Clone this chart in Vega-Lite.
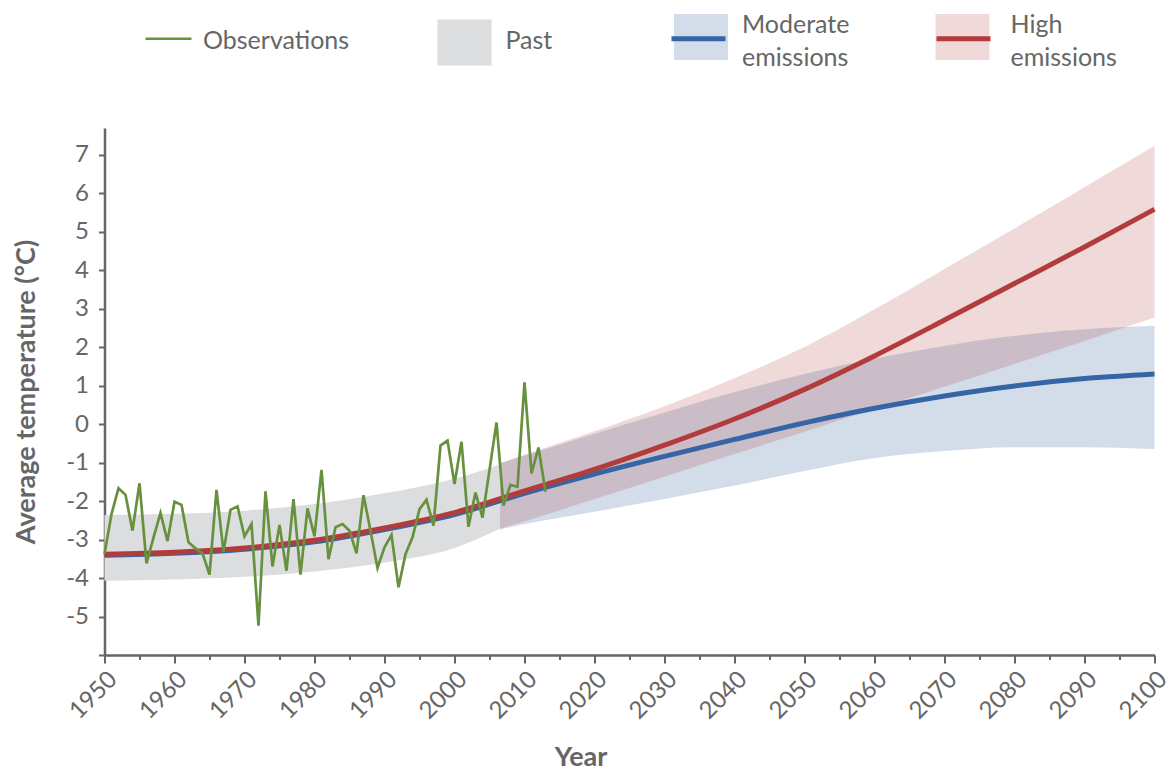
{
  "$schema": "https://vega.github.io/schema/vega-lite/v6.json",
  "width": 1050,
  "height": 527,
  "autosize": {"type": "none"},
  "padding": {"left": 104.5, "top": 128, "right": 17.5, "bottom": 115},
  "background": "white",
  "config": {
    "locale": {"number": {"decimal": ".", "thousands": ",", "grouping": [3], "currency": ["$", ""], "minus": "-"}},
    "view": {"stroke": null},
    "font": "Lato",
    "axis": {
      "domainColor": "#666666", "domainWidth": 2.5, "tickColor": "#666666", "tickWidth": 2,
      "labelColor": "#666666", "labelFont": "Lato", "labelFontSize": 24,
      "titleColor": "#666666", "titleFont": "Lato", "titleFontSize": 27, "titleFontWeight": "bold", "grid": false
    },
    "legend": {"labelFont": "Lato", "labelFontSize": 25, "labelColor": "#666666", "padding": 0}
  },
  "datasets": {
    "obs": [
      {"year": 1950, "temp": -3.38}, {"year": 1951, "temp": -2.34}, {"year": 1952, "temp": -1.67}, {"year": 1953, "temp": -1.84},
      {"year": 1954, "temp": -2.77}, {"year": 1955, "temp": -1.54}, {"year": 1956, "temp": -3.62}, {"year": 1957, "temp": -2.95},
      {"year": 1958, "temp": -2.31}, {"year": 1959, "temp": -3.04}, {"year": 1960, "temp": -2.02}, {"year": 1961, "temp": -2.10},
      {"year": 1962, "temp": -3.07}, {"year": 1963, "temp": -3.23}, {"year": 1964, "temp": -3.36}, {"year": 1965, "temp": -3.91},
      {"year": 1966, "temp": -1.71}, {"year": 1967, "temp": -3.32}, {"year": 1968, "temp": -2.23}, {"year": 1969, "temp": -2.14},
      {"year": 1970, "temp": -2.92}, {"year": 1971, "temp": -2.60}, {"year": 1972, "temp": -5.24}, {"year": 1973, "temp": -1.75},
      {"year": 1974, "temp": -3.70}, {"year": 1975, "temp": -2.62}, {"year": 1976, "temp": -3.81}, {"year": 1977, "temp": -1.95},
      {"year": 1978, "temp": -3.91}, {"year": 1979, "temp": -2.19}, {"year": 1980, "temp": -2.92}, {"year": 1981, "temp": -1.19},
      {"year": 1982, "temp": -3.51}, {"year": 1983, "temp": -2.68}, {"year": 1984, "temp": -2.60}, {"year": 1985, "temp": -2.77},
      {"year": 1986, "temp": -3.36}, {"year": 1987, "temp": -1.85}, {"year": 1988, "temp": -2.77}, {"year": 1989, "temp": -3.74},
      {"year": 1990, "temp": -3.20}, {"year": 1991, "temp": -2.88}, {"year": 1992, "temp": -4.24}, {"year": 1993, "temp": -3.38},
      {"year": 1994, "temp": -2.94}, {"year": 1995, "temp": -2.21}, {"year": 1996, "temp": -1.97}, {"year": 1997, "temp": -2.64},
      {"year": 1998, "temp": -0.56}, {"year": 1999, "temp": -0.43}, {"year": 2000, "temp": -1.56}, {"year": 2001, "temp": -0.46},
      {"year": 2002, "temp": -2.67}, {"year": 2003, "temp": -1.78}, {"year": 2004, "temp": -2.43}, {"year": 2005, "temp": -1.19},
      {"year": 2006, "temp": 0.04}, {"year": 2007, "temp": -2.12}, {"year": 2008, "temp": -1.58}, {"year": 2009, "temp": -1.63},
      {"year": 2010, "temp": 1.08}, {"year": 2011, "temp": -1.28}, {"year": 2012, "temp": -0.61}, {"year": 2013, "temp": -1.76}
    ],
    "lines": [
      {"year": 1950, "model": "High emissions", "temp": -3.38}, {"year": 1960, "model": "High emissions", "temp": -3.33},
      {"year": 1970, "model": "High emissions", "temp": -3.22}, {"year": 1980, "model": "High emissions", "temp": -3.02},
      {"year": 1990, "model": "High emissions", "temp": -2.70}, {"year": 2000, "model": "High emissions", "temp": -2.30},
      {"year": 2010, "model": "High emissions", "temp": -1.74}, {"year": 2020, "model": "High emissions", "temp": -1.18},
      {"year": 2030, "model": "High emissions", "temp": -0.55}, {"year": 2040, "model": "High emissions", "temp": 0.13},
      {"year": 2050, "model": "High emissions", "temp": 0.90}, {"year": 2060, "model": "High emissions", "temp": 1.77},
      {"year": 2070, "model": "High emissions", "temp": 2.70}, {"year": 2080, "model": "High emissions", "temp": 3.65},
      {"year": 2090, "model": "High emissions", "temp": 4.60}, {"year": 2100, "model": "High emissions", "temp": 5.58},
      {"year": 1950, "model": "Moderate emissions", "temp": -3.41}, {"year": 1960, "model": "Moderate emissions", "temp": -3.36},
      {"year": 1970, "model": "Moderate emissions", "temp": -3.25}, {"year": 1980, "model": "Moderate emissions", "temp": -3.06},
      {"year": 1990, "model": "Moderate emissions", "temp": -2.74}, {"year": 2000, "model": "Moderate emissions", "temp": -2.35},
      {"year": 2010, "model": "Moderate emissions", "temp": -1.80}, {"year": 2020, "model": "Moderate emissions", "temp": -1.30},
      {"year": 2030, "model": "Moderate emissions", "temp": -0.84}, {"year": 2040, "model": "Moderate emissions", "temp": -0.40},
      {"year": 2050, "model": "Moderate emissions", "temp": 0.03}, {"year": 2060, "model": "Moderate emissions", "temp": 0.41},
      {"year": 2070, "model": "Moderate emissions", "temp": 0.73}, {"year": 2080, "model": "Moderate emissions", "temp": 0.99},
      {"year": 2090, "model": "Moderate emissions", "temp": 1.18}, {"year": 2100, "model": "Moderate emissions", "temp": 1.30}
    ],
    "bands": [
      {"year": 1950, "series": "Past", "lower": -4.07, "upper": -2.36},
      {"year": 1960, "series": "Past", "lower": -4.04, "upper": -2.33},
      {"year": 1970, "series": "Past", "lower": -3.97, "upper": -2.25},
      {"year": 1980, "series": "Past", "lower": -3.83, "upper": -2.08},
      {"year": 1990, "series": "Past", "lower": -3.60, "upper": -1.80},
      {"year": 2000, "series": "Past", "lower": -3.22, "upper": -1.42},
      {"year": 2006.5, "series": "Past", "lower": -2.72, "upper": -1.05},
      {"year": 2006.5, "series": "Moderate emissions", "lower": -2.74, "upper": -1.02},
      {"year": 2010, "series": "Moderate emissions", "lower": -2.60, "upper": -0.82},
      {"year": 2020, "series": "Moderate emissions", "lower": -2.28, "upper": -0.25},
      {"year": 2030, "series": "Moderate emissions", "lower": -1.95, "upper": 0.30},
      {"year": 2040, "series": "Moderate emissions", "lower": -1.60, "upper": 0.83},
      {"year": 2050, "series": "Moderate emissions", "lower": -1.22, "upper": 1.30},
      {"year": 2060, "series": "Moderate emissions", "lower": -0.88, "upper": 1.70},
      {"year": 2070, "series": "Moderate emissions", "lower": -0.70, "upper": 2.03},
      {"year": 2080, "series": "Moderate emissions", "lower": -0.60, "upper": 2.29},
      {"year": 2090, "series": "Moderate emissions", "lower": -0.60, "upper": 2.46},
      {"year": 2100, "series": "Moderate emissions", "lower": -0.65, "upper": 2.55},
      {"year": 2006.5, "series": "High emissions", "lower": -2.72, "upper": -1.02},
      {"year": 2010, "series": "High emissions", "lower": -2.53, "upper": -0.80},
      {"year": 2020, "series": "High emissions", "lower": -1.95, "upper": -0.19},
      {"year": 2030, "series": "High emissions", "lower": -1.37, "upper": 0.46},
      {"year": 2040, "series": "High emissions", "lower": -0.78, "upper": 1.19},
      {"year": 2050, "series": "High emissions", "lower": -0.20, "upper": 2.00},
      {"year": 2060, "series": "High emissions", "lower": 0.39, "upper": 2.98},
      {"year": 2070, "series": "High emissions", "lower": 0.97, "upper": 4.03},
      {"year": 2080, "series": "High emissions", "lower": 1.56, "upper": 5.08},
      {"year": 2090, "series": "High emissions", "lower": 2.16, "upper": 6.15},
      {"year": 2100, "series": "High emissions", "lower": 2.77, "upper": 7.23}
    ]
  },
  "layer": [
    {
      "data": {"name": "bands"},
      "mark": {"type": "area", "interpolate": "monotone"},
      "encoding": {
        "x": {
          "field": "year", "type": "quantitative",
          "scale": {"domain": [1950, 2100], "nice": false, "zero": false},
          "axis": {
            "orient": "bottom",
            "values": [1950, 1960, 1970, 1980, 1990, 2000, 2010, 2020, 2030, 2040, 2050, 2060, 2070, 2080, 2090, 2100],
            "format": "d", "labelAngle": -45, "labelAlign": "right", "labelBaseline": "top",
            "labelPadding": 4, "tickSize": 8, "labelFlush": false, "labelOverlap": false,
            "title": "Year", "titleX": 476, "titleY": 110, "titleBaseline": "alphabetic"
          }
        },
        "y": {
          "field": "lower", "type": "quantitative",
          "scale": {"domain": [-6, 7.69], "nice": false, "zero": false},
          "axis": {
            "orient": "left",
            "values": [-5, -4, -3, -2, -1, 0, 1, 2, 3, 4, 5, 6, 7],
            "format": "d",
            "tickSize": 6, "labelPadding": 10,
            "title": "Average temperature (°C)", "titleX": -78, "titleBaseline": "middle"
          }
        },
        "y2": {"field": "upper"},
        "fill": {
          "field": "series", "type": "nominal",
          "scale": {
            "domain": ["Observations", "Past", "Moderate emissions", "High emissions"],
            "range": ["transparent", "#dcdddf", "rgba(35,85,145,0.2)", "rgba(175,65,65,0.2)"]
          },
          "legend": {
            "title": null, "orient": "none", "legendX": 46.5, "legendY": -118,
            "direction": "horizontal", "columns": 4, "gridAlign": "all", "columnPadding": 62.5,
            "symbolType": "M-1,-0.85H1V0.85H-1Z", "symbolSize": 2916, "symbolStrokeWidth": 0,
            "labelOffset": 14,
            "encode": {
              "symbols": {"update": {
                "x": {"signal": "datum.value == 'Past' ? 52 : 27"}
              }},
              "labels": {"update": {
                "lineBreak": {"value": " "}, "lineHeight": {"value": 33},
                "dy": {"signal": "indexof(datum.label, ' ') >= 0 ? -12 : -2"},
                "dx": {"signal": "datum.value == 'Observations' ? -16 : datum.value == 'Past' ? 25 : datum.value == 'High emissions' ? 7 : 0"}
              }}
            }
          }
        }
      }
    },
    {
      "data": {"name": "lines"},
      "transform": [{"filter": "datum.model == 'Moderate emissions'"}],
      "mark": {"type": "line", "interpolate": "monotone", "strokeWidth": 5},
      "encoding": {
        "x": {"field": "year", "type": "quantitative", "axis": null},
        "y": {
          "field": "temp", "type": "quantitative",
          "axis": {"orient": "left", "values": [-6], "labels": false, "domain": false, "title": null, "tickSize": 6}
        },
        "stroke": {
          "field": "model", "type": "nominal",
          "scale": {
            "domain": ["Past", "Observations", "Moderate emissions", "High emissions"],
            "range": ["transparent", "#67913f", "#3565a5", "#b23c3c"]
          },
          "legend": {
            "values": ["Observations", "Past", "Moderate emissions", "High emissions"],
            "title": null, "orient": "none", "legendX": 51.5, "legendY": -102,
            "direction": "horizontal", "columns": 4, "gridAlign": "all", "columnPadding": 190,
            "symbolType": "M-1,0H1", "symbolSize": 2916, "symbolStrokeWidth": 0,
            "labelOffset": 0, "labelExpr": "''",
            "encode": {
              "symbols": {"update": {
                "shape": {"signal": "datum.value == 'Observations' ? 'M-0.85,0H0.85' : 'M-1,0H1'"},
                "strokeWidth": {"signal": "datum.value == 'Observations' ? 2.7 : 5"}
              }}
            }
          }
        }
      }
    },
    {
      "data": {"name": "lines"},
      "transform": [{"filter": "datum.model == 'High emissions'"}],
      "mark": {"type": "line", "interpolate": "monotone", "strokeWidth": 5},
      "encoding": {
        "x": {"field": "year", "type": "quantitative", "axis": null},
        "y": {"field": "temp", "type": "quantitative", "axis": null},
        "stroke": {"field": "model", "type": "nominal", "legend": null}
      }
    },
    {
      "data": {"name": "obs"},
      "mark": {"type": "line", "strokeWidth": 2.7, "strokeJoin": "miter"},
      "encoding": {
        "x": {
          "field": "year", "type": "quantitative",
          "axis": {
            "orient": "bottom", "domain": false, "labels": false, "title": null, "tickSize": 4.5,
            "values": [1955, 1965, 1975, 1985, 1995, 2005, 2015, 2025, 2035, 2045, 2055, 2065, 2075, 2085, 2095]
          }
        },
        "y": {"field": "temp", "type": "quantitative", "axis": null},
        "stroke": {"datum": "Observations", "type": "nominal", "legend": null}
      }
    }
  ],
  "resolve": {"axis": {"x": "independent", "y": "independent"}}
}
